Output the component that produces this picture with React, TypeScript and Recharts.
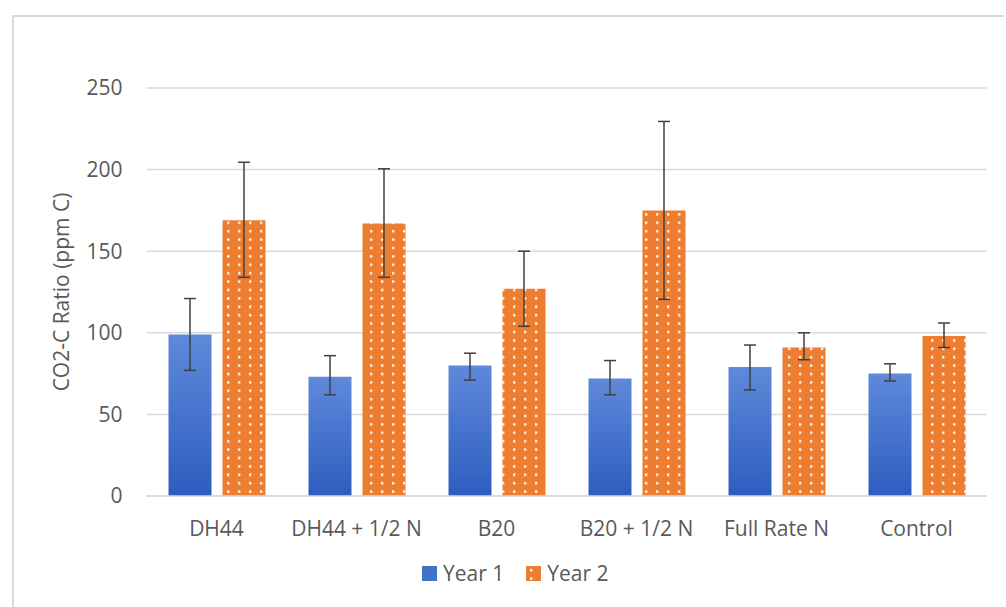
import { ComposedChart, Bar, XAxis, YAxis, CartesianGrid, ErrorBar, Legend, Label } from 'recharts'

const categories = ['DH44', 'DH44 + 1/2 N', 'B20', 'B20 + 1/2 N', 'Full Rate N', 'Control']
const year1 = [99, 73, 80, 72, 79, 75]
const year1Low = [77, 62, 71, 62, 65, 70.5]
const year1High = [121, 86, 87.5, 83, 92.5, 81]
const year2 = [169, 167, 127, 175, 91, 98]
const year2Low = [134, 134, 104, 120.5, 83.5, 91]
const year2High = [204.5, 200.5, 150, 229.5, 100, 106]
const yTicks = [0, 50, 100, 150, 200, 250]

const data = categories.map((name, i) => ({
  name,
  year1: year1[i],
  year2: year2[i],
  err1: [year1[i] - year1Low[i], year1High[i] - year1[i]],
  err2: [year2[i] - year2Low[i], year2High[i] - year2[i]],
}))

const FONT = '"Open Sans", sans-serif'
const TEXT = '#595959'
const GRID = '#d9d9d9'

function LegendContent() {
  const item = (label: string, fill: string) => (
    <div style={{ display: 'flex', alignItems: 'center', gap: 6 }}>
      <svg width={15} height={15}>
        <rect x={0} y={0} width={15} height={15} fill={fill} />
      </svg>
      <span style={{ fontSize: 21, color: TEXT, fontFamily: FONT }}>{label}</span>
    </div>
  )
  return (
    <div style={{ height: 30, display: 'flex', justifyContent: 'center', alignItems: 'center', gap: 22 }}>
      {item('Year 1', '#4472c4')}
      {item('Year 2', 'url(#dots)')}
    </div>
  )
}

export default function App() {
  return (
    <div style={{
      position: 'absolute', left: 12, top: 15, width: 990, height: 590,
      borderLeft: `2px solid ${GRID}`, borderTop: `2px solid ${GRID}`, background: '#fff',
    }}>
      <svg width={0} height={0} style={{ position: 'absolute' }}>
        <defs>
          <pattern id="dots" x={0} y={0} width={11} height={8.4} patternUnits="userSpaceOnUse">
            <rect x={0} y={0} width={11} height={8.4} fill="#ed7d31" />
            <rect x={4} y={3} width={2.4} height={2.4} fill="#ffffff" />
          </pattern>
        </defs>
      </svg>
      <ComposedChart
        width={990}
        height={590}
        data={data}
        margin={{ top: 71, right: 17.5, bottom: 19, left: 30 }}
        barGap={11}
        style={{ fontFamily: FONT }}
      >
        <defs>
          <linearGradient id="blueGrad" x1="0" y1="0" x2="0" y2="1">
            <stop offset="0%" stopColor="#5f89da" />
            <stop offset="100%" stopColor="#2d5dbf" />
          </linearGradient>
          <pattern id="dots2" x={0} y={0} width={11} height={8.4} patternUnits="userSpaceOnUse">
            <rect x={0} y={0} width={11} height={8.4} fill="#ed7d31" />
            <rect x={4} y={3} width={2.4} height={2.4} fill="#fff4e8" />
          </pattern>
        </defs>
        <CartesianGrid vertical={false} stroke={GRID} strokeWidth={1.5} />
        <XAxis
          dataKey="name"
          height={62}
          tickLine={false}
          tickSize={0}
          tickMargin={25}
          axisLine={{ stroke: GRID, strokeWidth: 1.5 }}
          tick={{ fontSize: 21, fill: TEXT, fontFamily: FONT }}
          interval={0}
        />
        <YAxis
          width={102.5}
          domain={[0, 250]}
          ticks={yTicks}
          axisLine={false}
          tickLine={false}
          tickSize={0}
          tickMargin={24}
          tick={{ fontSize: 21, fill: TEXT, fontFamily: FONT }}
        >
          <Label
            value="CO2-C Ratio (ppm C)"
            angle={-90}
            position="insideLeft"
            offset={18}
            style={{ textAnchor: 'middle', fontSize: 21, fill: TEXT, fontFamily: FONT }}
          />
        </YAxis>
        <Legend verticalAlign="bottom" height={30} content={<LegendContent />} />
        <Bar dataKey="year1" name="Year 1" fill="url(#blueGrad)" barSize={43} isAnimationActive={false}>
          <ErrorBar dataKey="err1" width={6} stroke="#404040" strokeWidth={1.5} />
        </Bar>
        <Bar dataKey="year2" name="Year 2" fill="url(#dots2)" barSize={43} isAnimationActive={false}>
          <ErrorBar dataKey="err2" width={6} stroke="#404040" strokeWidth={1.5} />
        </Bar>
      </ComposedChart>
    </div>
  )
}
